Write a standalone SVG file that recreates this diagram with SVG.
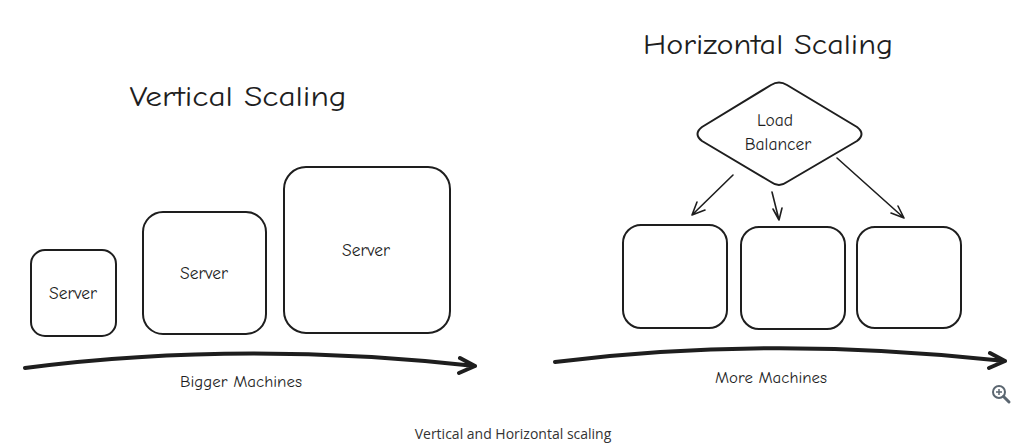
<svg xmlns="http://www.w3.org/2000/svg" width="1017" height="444" viewBox="0 0 1017 444">
<style>
.box{fill:none;stroke:#1e1e1e;stroke-width:2;stroke-linejoin:round}
.hand{font-family:"Comic Neue","Liberation Sans","DejaVu Sans",sans-serif;fill:#1e1e1e;text-anchor:middle;dominant-baseline:central}
.title{font-size:28px}
.lbl{font-size:17.5px}
.thick{fill:none;stroke:#1e1e1e;stroke-width:4;stroke-linecap:round;stroke-linejoin:round}
.thin{fill:none;stroke:#1e1e1e;stroke-width:1.6;stroke-linecap:round;stroke-linejoin:round}
.cap{font-family:"Open Sans","Liberation Sans",sans-serif;font-size:14px;fill:#333;text-anchor:middle;dominant-baseline:central}
</style>
<rect width="1017" height="444" fill="#fff"/>
<g id="title-vertical"><text class="hand title" x="238" y="97" textLength="217" lengthAdjust="spacingAndGlyphs">Vertical Scaling</text></g>
<g id="title-horizontal"><text class="hand title" x="768" y="45" textLength="250" lengthAdjust="spacingAndGlyphs">Horizontal Scaling</text></g>
<g id="server-small"><rect class="box" x="31" y="250" width="85" height="86" rx="14"/><text class="hand lbl" x="73" y="293">Server</text></g>
<g id="server-medium"><rect class="box" x="143" y="212" width="123" height="122" rx="20"/><text class="hand lbl" x="204" y="273">Server</text></g>
<g id="server-large"><rect class="box" x="284" y="167" width="166" height="166" rx="22"/><text class="hand lbl" x="366" y="250">Server</text></g>
<g id="load-balancer"><path class="box" d="M771 85 Q779 80 787 85 L857 127 Q866 134 857 141 L787 182 Q779 188 771 182 L702 141 Q693 134 702 127 Z"/><text class="hand lbl" x="775" y="120">Load</text><text class="hand lbl" x="778" y="144">Balancer</text></g>
<g id="node-h1"><rect class="box" x="623" y="225" width="104" height="103" rx="18"/></g>
<g id="node-h2"><rect class="box" x="741" y="227" width="104" height="102" rx="18"/></g>
<g id="node-h3"><rect class="box" x="857" y="227" width="104" height="101" rx="18"/></g>
<g id="connectors">
<path class="thin" d="M733 175 L692 215 M692 215 L697 202 M692 215 L705 210"/>
<path class="thin" d="M772 192 L779 220 M779 220 L773 209 M779 220 L782 208"/>
<path class="thin" d="M837 158 L904 218 M904 218 L898 206 M904 218 L891 213"/>
<path class="thick" d="M25 368 Q240 340 475 366 M475 366 L460 358 M475 366 L459 373"/>
<path class="thick" d="M555 362 Q770 335 1005 361 M1005 361 L990 353 M1005 361 L989 368"/>
</g>
<g id="label-bigger"><text class="hand" font-size="16.5" x="241" y="381" textLength="122" lengthAdjust="spacingAndGlyphs">Bigger Machines</text></g>
<g id="label-more"><text class="hand" font-size="16.5" x="771" y="377" textLength="112" lengthAdjust="spacingAndGlyphs">More Machines</text></g>
<g id="zoom-icon" fill="none" stroke="#5b6670" stroke-width="2"><circle cx="999" cy="392" r="6"/><path d="M1003.5 396.5 L1009 402" stroke-width="3" stroke-linecap="round"/><path d="M999 389 V395 M996 392 H1002" stroke-width="1.5"/></g>
<g id="caption"><text class="cap" x="513" y="433">Vertical and Horizontal scaling</text></g>
</svg>
